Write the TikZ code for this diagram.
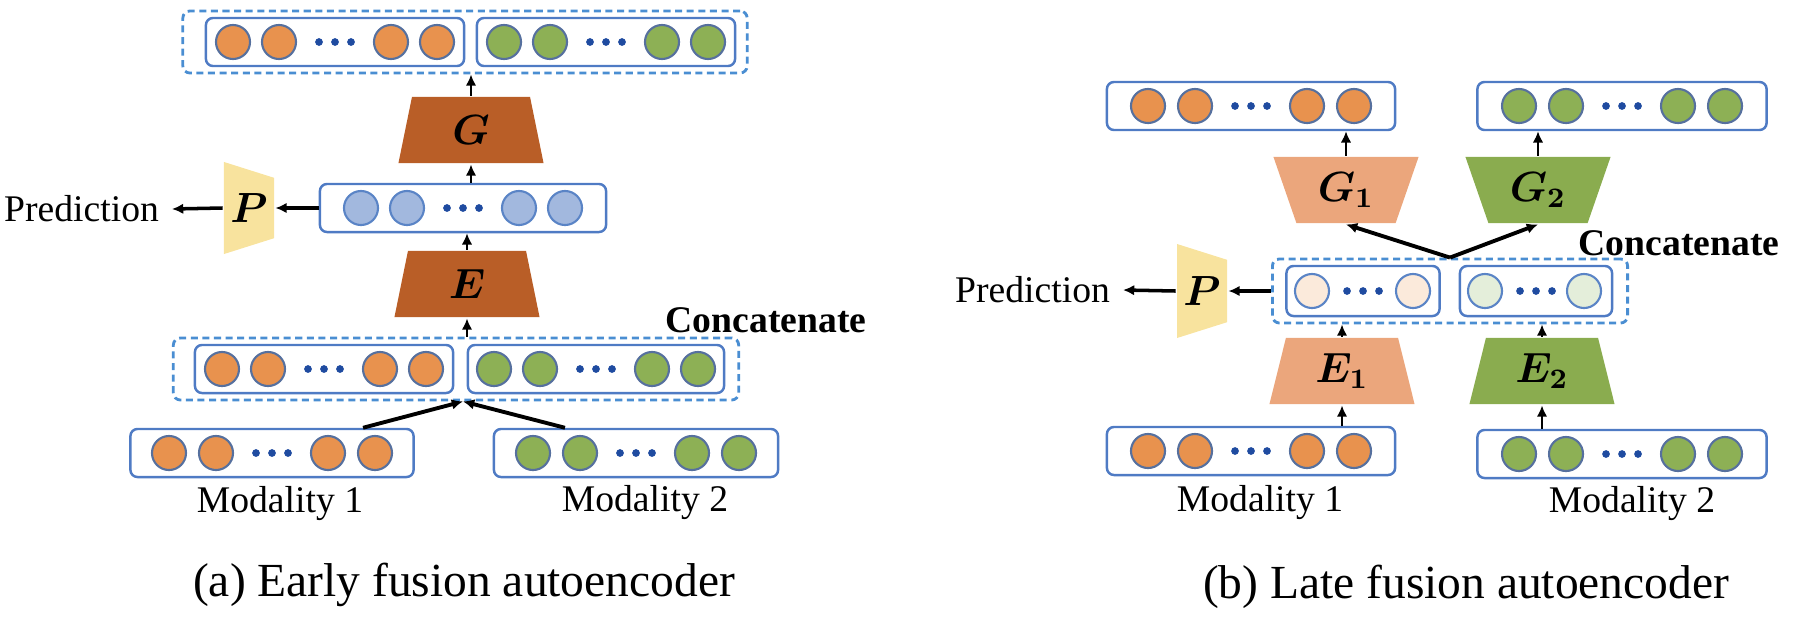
\documentclass[tikz,border=0pt]{standalone}
\usepackage{fontspec}
\setmainfont{Liberation Serif}
\usepackage{amsmath}
\usetikzlibrary{shapes.geometric,arrows.meta}
\def\bv#1{\boldsymbol{#1}}

\definecolor{boxblue}{HTML}{4F7BC4}
\definecolor{dashblue}{HTML}{4A8ED2}
\definecolor{dotblue}{HTML}{1F4BA0}
\definecolor{orangeU}{HTML}{E8924E}
\definecolor{greenU}{HTML}{8DB055}
\definecolor{blueU}{HTML}{A2B8DE}
\definecolor{paleO}{HTML}{FBEADB}
\definecolor{paleG}{HTML}{E4EEDA}
\definecolor{edgeU}{HTML}{56709E}
\definecolor{edgeB}{HTML}{5A84C6}
\definecolor{brownT}{HTML}{B95E27}
\definecolor{orangeT}{HTML}{EBA67C}
\definecolor{greenT}{HTML}{8AAC4F}
\definecolor{yellowP}{HTML}{F8E39E}

% circles of one vector box: #1 box, #2 fill, #3 edge, #4 offsets
\newcommand\units[4]{%
  \foreach \dx [count=\i] in {#4}
    \node[cell, fill=#2, draw=#3] (#1u\i) at ([xshift=\dx*0.01cm]#1.center) {};
  \foreach \dx in {-16,0,16}
    \fill[dotblue] ([xshift=\dx*0.01cm]#1.center) circle (1.1pt);
}

\tikzset{
  vecbox/.style={draw=boxblue, line width=0.7pt, rounded corners=2pt, minimum height=0.48cm, inner sep=0pt},
  catbox/.style={draw=dashblue, line width=0.8pt, dash pattern=on 2pt off 1.3pt, rounded corners=2pt, minimum height=0.62cm, inner sep=0pt},
  cell/.style={circle, line width=0.6pt, minimum size=0.34cm, inner sep=0pt},
  coder/.style={trapezium, trapezium stretches body, trapezium angle=65, inner sep=0pt, minimum height=0.66cm, minimum width=1.45cm, font=\large},
  sidecoder/.style={coder, fill=yellowP, shape border rotate=270, trapezium angle=67, minimum width=0.92cm, minimum height=0.5cm},
  lbl/.style={font=\fontsize{10.7}{13}\selectfont},
  captext/.style={font=\fontsize{13.5}{16}\selectfont},
}

\begin{document}
\begin{tikzpicture}[x=0.01cm,y=-0.01cm,>={Latex[length=3.2pt,width=3pt]},line width=0.8pt]
\useasboundingbox (0,0) rectangle (1800,627);

% (a) early fusion
\node[catbox, minimum width=5.64cm] (rec) at (465,42) {};
\node[vecbox, minimum width=2.58cm] (rec1) at (335,42) {};
\node[vecbox, minimum width=2.58cm] (rec2) at (606,42) {};
\units{rec1}{orangeU}{edgeU}{-102,-56,56,102}
\units{rec2}{greenU}{edgeU}{-102,-56,56,102}

\node[coder, fill=brownT] (G) at (471,130) {$\bv{G}$};
\node[vecbox, minimum width=2.86cm] (lat) at (463,208) {};
\units{lat}{blueU}{edgeB}{-102,-56,56,102}
\node[coder, fill=brownT] (E) at (467,284) {$\bv{E}$};
\node[sidecoder] (P) at (249,208) {$\bv{P}$};
\node[lbl, anchor=east] (pred) at (172,209) {Prediction};

\node[catbox, minimum width=5.65cm] (cat) at (456,369) {};
\node[vecbox, minimum width=2.58cm] (cat1) at (324,369) {};
\node[vecbox, minimum width=2.56cm] (cat2) at (596,369) {};
\units{cat1}{orangeU}{edgeU}{-102,-56,56,102}
\units{cat2}{greenU}{edgeU}{-102,-56,56,102}
\node[lbl, font=\fontsize{10.7}{13}\selectfont\bfseries] (cc) at (766,320) {Concatenate};

\node[vecbox, minimum width=2.83cm] (m1) at (272,453) {};
\node[vecbox, minimum width=2.84cm] (m2) at (636,453) {};
\units{m1}{orangeU}{edgeU}{-103,-56,56,103}
\units{m2}{greenU}{edgeU}{-103,-56,56,103}
\node[lbl] (mt1) at (280,503) {Modality 1};
\node[lbl] (mt2) at (645,502) {Modality 2};
\node[captext] (capa) at (464,585) {(a) Early fusion autoencoder};

\draw[->] (G.top side) -- (G.top side |- rec.south);
\draw[->] (G.bottom side |- lat.north) -- (G.bottom side);
\draw[->] (E.top side) -- (E.top side |- lat.south);
\draw[->] (E.bottom side |- cat.north) -- (E.bottom side);
\draw[->, line width=1pt] (lat.west) -- (P.top side);
\draw[->, line width=1pt] (P.bottom side) -- (pred.east);
\coordinate (mrg) at ([xshift=0.07cm]cat.south);
\draw[->, line width=1.1pt] ([xshift=0.91cm]m1.north) -- (mrg);
\draw[->, line width=1.1pt] ([xshift=-0.71cm]m2.north) -- (mrg);

% (b) late fusion
\node[vecbox, minimum width=2.88cm] (out1) at (1251,106) {};
\node[vecbox, minimum width=2.89cm] (out2) at (1622,106) {};
\units{out1}{orangeU}{edgeU}{-103,-56,56,103}
\units{out2}{greenU}{edgeU}{-103,-56,56,103}
\node[coder, fill=orangeT, shape border rotate=180, trapezium angle=57] (G1) at (1346,190) {$\bv{G_1}$};
\node[coder, fill=greenT, shape border rotate=180, trapezium angle=57] (G2) at (1538,190) {$\bv{G_2}$};
\node[lbl, font=\fontsize{10.7}{13}\selectfont\bfseries] (cc2) at (1679,243) {Concatenate};

\node[catbox, minimum width=3.55cm, minimum height=0.64cm] (lcat) at (1450,291) {};
\node[vecbox, minimum width=1.53cm, minimum height=0.5cm] (lcat1) at (1363,291) {};
\node[vecbox, minimum width=1.52cm, minimum height=0.5cm] (lcat2) at (1536,291) {};
\units{lcat1}{paleO}{edgeB}{-51,50}
\units{lcat2}{paleG}{edgeB}{-51,48}
\node[sidecoder, minimum width=0.94cm] (P2) at (1202,291) {$\bv{P}$};
\node[lbl, anchor=east] (pred2) at (1123,290) {Prediction};

\node[coder, fill=orangeT] (E1) at (1342,371) {$\bv{E_1}$};
\node[coder, fill=greenT] (E2) at (1542,371) {$\bv{E_2}$};
\node[vecbox, minimum width=2.88cm] (n1) at (1251,451) {};
\node[vecbox, minimum width=2.89cm] (n2) at (1622,454) {};
\units{n1}{orangeU}{edgeU}{-103,-56,56,103}
\units{n2}{greenU}{edgeU}{-103,-56,56,103}
\node[lbl] (nt1) at (1260,502) {Modality 1};
\node[lbl] (nt2) at (1632,503) {Modality 2};
\node[captext] (capb) at (1466,587) {(b) Late fusion autoencoder};

\draw[->] (G1.bottom side) -- (G1.bottom side |- out1.south);
\draw[->] (G2.bottom side) -- (G2.bottom side |- out2.south);
\draw[->, line width=1.1pt] (lcat.north) -- (G1.top side);
\draw[->, line width=1.1pt] (lcat.north) -- (G2.top side);
\draw[->, line width=1pt] (lcat.west) -- (P2.top side);
\draw[->, line width=1pt] (P2.bottom side) -- (pred2.east);
\draw[->] (E1.top side) -- (E1.top side |- lcat.south);
\draw[->] (E2.top side) -- (E2.top side |- lcat.south);
\draw[->] (E1.bottom side |- n1.north) -- (E1.bottom side);
\draw[->] (E2.bottom side |- n2.north) -- (E2.bottom side);
\end{tikzpicture}
\end{document}
